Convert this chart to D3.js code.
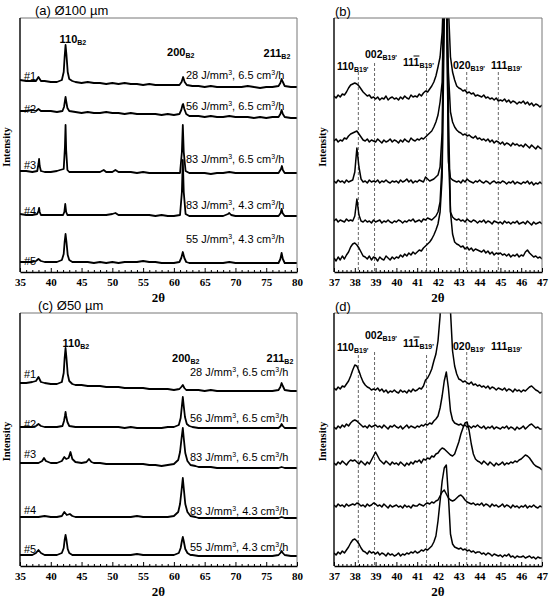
<!DOCTYPE html>
<html><head><meta charset="utf-8">
<script src="https://cdn.jsdelivr.net/npm/d3@7"></script>
<style>body{margin:0;background:#fff}</style>
</head><body>
<svg id="chart" width="550" height="604"></svg>
<script>
// ---------------- DATA ----------------
const thetaWideTicks = [35,40,45,50,55,60,65,70,75,80];
const thetaWideMinor = [36,37,38,39,41,42,43,44,46,47,48,49,51,52,53,54,56,57,58,59,61,62,63,64,66,67,68,69,71,72,73,74,76,77,78,79];
const thetaNarrowTicks = [37,38,39,40,41,42,43,44,45,46,47];
const thetaNarrowMinor = [37.2,37.4,37.6,37.8,38.2,38.4,38.6,38.8,39.2,39.4,39.6,39.8,40.2,40.4,40.6,40.8,41.2,41.4,41.6,41.8,42.2,42.4,42.6,42.8,43.2,43.4,43.6,43.8,44.2,44.4,44.6,44.8,45.2,45.4,45.6,45.8,46.2,46.4,46.6,46.8];
const sampleIds = ["#1","#2","#3","#4","#5"];
const energyDensity = ["28","56","83","83","55"];
const powderRate = ["6.5","6.5","6.5","4.3","4.3"];
const b2Peaks = [{hkl:"110",theta:42.4},{hkl:"200",theta:61.5},{hkl:"211",theta:77.5}];
const b19Peaks = [{hkl:"110",theta:38.17},{hkl:"002",theta:38.95},{hkl:"111",bar:true,theta:41.45},{hkl:"020",theta:43.38},{hkl:"111",theta:44.9}];

// panel (a) Ø100 µm, full range, [2θ, intensity a.u.]
const scanA1 = [[35,192],[36,191],[37,191],[37.6,191],[38.0,195],[38.4,191],[39,191],[40,190],[41,190],[41.8,192],[42.1,200],[42.25,215],[42.4,227],[42.55,217],[42.75,200],[43.0,193],[43.5,191],[44,190],[45,189],[46,190],[47,189],[48,189],[49,188],[50,189],[51,188],[52,189],[53,188],[54,188],[55,187],[56,188],[57,187],[58,187],[59,187],[60,187],[60.9,187],[61.25,190],[61.5,195],[61.75,190],[62.1,187],[63,186],[64,186],[65,185],[66,186],[67,185],[68,185],[69,185],[70,185],[71,185],[72,186],[73,185],[74,184],[75,185],[76,185],[77,186],[77.3,189],[77.5,193],[77.7,190],[78,186],[79,185],[80,185]];
const scanA2 = [[35,161],[36,161],[37,162],[37.6,161],[38.0,163],[38.4,161],[39,161],[40,161],[41,160],[41.9,161],[42.15,165],[42.3,171],[42.4,175],[42.5,171],[42.7,164],[43,161],[44,160],[45,159],[46,160],[47,159],[48,159],[49,160],[50,159],[51,159],[52,158],[53,159],[54,158],[55,158],[56,158],[57,158],[58,157],[59,158],[60,157],[60.9,158],[61.2,162],[61.4,167],[61.5,168],[61.7,163],[62,158],[62.5,156],[63,156],[64,156],[65,155],[66,156],[67,155],[68,155],[69,156],[70,155],[71,155],[72,155],[73,154],[74,155],[75,154],[76,155],[77,155],[77.3,158],[77.5,162],[77.7,158],[78,155],[79,154],[80,154]];
const scanA3 = [[35,101],[36,101],[37,100],[37.8,101],[38.0,108],[38.1,113],[38.2,106],[38.4,101],[39,100],[40,100],[41,101],[41.5,102],[42.1,103],[42.3,125],[42.4,147],[42.5,122],[42.7,102],[43,100],[44,100],[45,100],[46,100],[47,100],[48,100],[48.6,102],[49,100],[50,100],[50.5,102],[51,100],[52,100],[53,100],[54,99],[55,100],[56,99],[57,99],[58,99],[59,99],[60,99],[61,99],[61.3,120],[61.45,147],[61.6,120],[61.9,101],[62.5,99],[63,99],[64,99],[65,99],[66,98],[67,99],[68,99],[69,100],[70,99],[71,99],[72,99],[73,99],[74,99],[75,99],[76,99],[77,99],[77.4,103],[77.55,106],[77.7,102],[78,99],[79,99],[80,99]];
const scanA4 = [[35,58],[36,57],[37,57],[37.8,58],[38.0,61],[38.1,64],[38.2,60],[38.4,57],[39,57],[40,57],[41,57],[42,57],[42.2,60],[42.35,68],[42.5,60],[42.7,57],[43,57],[44,57],[45,57],[46,57],[47,57],[48,57],[49,57],[50,58],[50.5,59],[51,57],[52,57],[53,57],[54,57],[55,57],[56,57],[57,56],[58,57],[59,56],[60,56],[61,57],[61.3,80],[61.45,112],[61.6,80],[61.9,58],[62.5,56],[63,56],[64,56],[65,56],[66,56],[67,56],[68,56],[68.8,58],[69,59],[69.3,57],[70,56],[71,56],[72,56],[73,56],[74,56],[75,56],[76,56],[77,56],[77.35,59],[77.5,63],[77.65,59],[78,56],[79,56],[80,56]];
const scanA5 = [[35,10],[36,10],[37,10],[37.6,11],[38.0,13],[38.4,11],[39,10],[40,10],[41,10],[41.8,12],[42.1,18],[42.25,30],[42.4,38],[42.55,30],[42.75,17],[43,12],[43.5,10],[44,10],[45,10],[46,10],[47,9],[48,10],[49,9],[50,10],[51,9],[52,10],[53,10],[54,10],[55,11],[56,10],[57,10],[58,9],[59,9],[60,9],[60.9,10],[61.2,14],[61.45,20],[61.7,14],[62,10],[62.5,9],[63,9],[64,9],[65,9],[66,9],[67,9],[68,9],[69,10],[70,9],[71,9],[72,9],[73,9],[74,9],[75,9],[76,9],[77,9],[77.3,13],[77.5,19],[77.7,13],[78,9],[79,9],[80,9]];

// panel (c) Ø50 µm, full range
const scanC1 = [[35,183],[36,183],[37,184],[37.6,185],[38.0,189],[38.4,184],[39,183],[40,182],[41,182],[41.8,184],[42.1,193],[42.25,208],[42.4,218],[42.55,208],[42.75,192],[43,185],[43.5,182],[44,181],[45,181],[46,180],[47,180],[48,180],[49,179],[50,179],[51,179],[52,178],[53,178],[54,178],[55,178],[56,177],[57,177],[58,177],[59,177],[60,176],[60.9,177],[61.2,179],[61.45,181],[61.7,178],[62,176],[63,176],[64,176],[65,175],[66,176],[67,175],[68,175],[69,175],[70,175],[71,175],[72,175],[73,175],[74,175],[75,175],[76,175],[77,176],[77.3,179],[77.5,183],[77.7,180],[78,176],[79,175],[80,175]];
const scanC2 = [[35,139],[36,139],[37,139],[37.6,140],[38.0,142],[38.4,140],[39,139],[40,139],[41,139],[41.9,140],[42.15,145],[42.3,150],[42.4,154],[42.5,150],[42.7,144],[43,140],[44,139],[45,139],[46,139],[47,139],[48,139],[49,139],[50,139],[51,139],[52,138],[53,139],[54,138],[55,138],[56,138],[57,138],[58,138],[59,139],[60,139],[60.8,141],[61.1,148],[61.3,160],[61.45,169],[61.6,160],[61.8,149],[62.1,142],[62.5,140],[63,139],[64,138],[65,138],[66,138],[67,138],[68,138],[69,138],[70,138],[71,138],[72,138],[73,138],[74,138],[75,138],[76,138],[77,138],[77.35,140],[77.5,142],[77.7,140],[78,138],[79,138],[80,138]];
const scanC3 = [[35,103],[36,103],[37,103],[38,103],[38.6,105],[38.9,108],[39.2,105],[40,103],[41,103],[41.8,105],[42.2,109],[42.5,107],[42.9,108],[43.2,114],[43.5,107],[44,104],[45,103],[45.8,104],[46.2,107],[46.6,104],[47,103],[48,103],[49,102],[50,102],[51,102],[52,102],[53,102],[54,102],[55,102],[56,101],[57,101],[58,100],[59,101],[60,102],[60.7,106],[61.0,114],[61.25,128],[61.45,138],[61.6,128],[61.85,113],[62.2,105],[62.7,101],[63.5,100],[64,99],[65,99],[66,99],[67,98],[68,98],[69,98],[70,98],[71,98],[72,98],[73,98],[74,98],[75,98],[76,98],[77,98],[77.5,99],[78,98],[79,98],[80,98]];
const scanC4 = [[35,49],[36,49],[37,49],[38,49],[39,50],[40,49],[41,49],[41.8,50],[42.2,54],[42.6,51],[43.1,52],[43.5,50],[44,49],[45,49],[46,49],[47,49],[48,49],[49,49],[50,49],[51,49],[52,49],[53,49],[54,50],[55,49],[56,49],[57,49],[58,49],[59,49],[60,50],[60.7,54],[61.0,62],[61.25,76],[61.45,88],[61.6,78],[61.85,62],[62.2,54],[62.7,50],[63.5,49],[64,48],[65,48],[66,48],[67,48],[68,48],[69,48],[70,48],[71,48],[72,48],[73,48],[74,48],[75,48],[76,48],[77,48],[77.5,49],[78,48],[79,48],[80,48]];
const scanC5 = [[35,11],[36,11],[37,11],[37.6,13],[38.0,16],[38.4,13],[39,11],[40,11],[41,11],[41.8,13],[42.1,18],[42.25,26],[42.4,31],[42.55,26],[42.75,17],[43,13],[43.5,11],[44,11],[45,11],[46,11],[47,11],[48,11],[49,11],[50,11],[51,11],[52,11],[53,11],[54,12],[55,11],[56,11],[57,11],[58,11],[59,11],[60,11],[60.8,13],[61.1,18],[61.3,25],[61.45,29],[61.6,25],[61.85,17],[62.2,13],[62.7,11],[63,11],[64,10],[65,10],[66,10],[67,10],[68,10],[69,10],[70,10],[71,10],[72,10],[73,10],[74,10],[75,10],[76,10],[77,11],[77.3,13],[77.5,15],[77.7,13],[78,11],[79,10],[80,10]];

// zoomed region 37-47°, sampled every 0.1°
const thetaFine = [37.0,37.1,37.2,37.3,37.4,37.5,37.6,37.7,37.8,37.9,38.0,38.1,38.2,38.3,38.4,38.5,38.6,38.7,38.8,38.9,39.0,39.1,39.2,39.3,39.4,39.5,39.6,39.7,39.8,39.9,40.0,40.1,40.2,40.3,40.4,40.5,40.6,40.7,40.8,40.9,41.0,41.1,41.2,41.3,41.4,41.5,41.6,41.7,41.8,41.9,42.0,42.1,42.2,42.3,42.4,42.5,42.6,42.7,42.8,42.9,43.0,43.1,43.2,43.3,43.4,43.5,43.6,43.7,43.8,43.9,44.0,44.1,44.2,44.3,44.4,44.5,44.6,44.7,44.8,44.9,45.0,45.1,45.2,45.3,45.4,45.5,45.6,45.7,45.8,45.9,46.0,46.1,46.2,46.3,46.4,46.5,46.6,46.7,46.8,46.9,47.0];
// panel (b)
const scanB1 = [176,174,177,175,178,177,180,184,187,188, 189,188,186,183,180,178,176,177,174,175, 173,175,172,174,173,176,172,174,175,173, 174,172,175,173,176,174,173,177,175,176, 175,178,176,179,181,180,183,186,190,196, 205,215,240,300,300,265,215,200,192,186, 184,183,181,182,179,180,178,179,176,177, 176,175,177,174,175,173,174,172,174,171, 172,171,173,170,172,169,171,170,168,170, 169,171,168,170,167,169,166,168,167,165, 167];
const scanB2 = [131,133,130,132,131,134,133,136,138,139, 140,141,138,135,132,131,133,130,132,131, 130,133,131,129,132,130,131,133,130,132, 131,129,132,130,133,131,130,134,132,131, 133,132,134,133,135,137,139,141,145,150, 157,170,190,300,300,200,160,150,145,142, 140,139,137,138,136,137,135,134,136,133, 134,132,133,131,133,130,132,129,131,130, 128,130,127,129,128,126,129,127,128,126, 127,125,128,126,124,127,125,123,126,124, 123];
const scanB3 = [91,89,92,90,91,89,92,90,91,92, 100,124,105,93,90,91,89,92,90,91, 90,92,89,91,90,92,90,89,91,90, 91,89,92,90,91,93,90,92,89,91, 90,92,91,90,95,93,91,92,93,95, 97,105,140,300,300,110,94,92,91,90, 91,89,92,90,93,91,90,89,91,90, 92,90,89,91,90,88,90,91,89,90, 89,91,90,88,90,89,91,88,90,89, 88,90,89,91,88,90,87,89,88,90, 88];
const scanB4 = [51,53,50,52,51,50,53,51,52,51, 56,73,57,51,50,52,50,51,49,52, 50,51,52,49,51,50,52,50,49,51, 50,52,51,49,51,50,52,51,53,50, 51,52,50,53,52,54,53,52,54,56, 60,70,110,300,300,120,60,55,53,52, 53,51,52,50,53,51,50,52,51,49, 51,50,52,49,51,50,48,51,50,49, 50,48,51,49,50,48,50,49,51,48, 49,50,48,51,49,47,50,48,49,50, 48];
const scanB5 = [14,11,15,12,16,13,17,20,25,28, 29,27,24,20,16,15,13,16,12,15, 14,11,15,13,12,16,14,12,15,13, 15,14,17,15,18,16,19,17,20,18, 20,22,21,24,26,28,30,33,37,42, 48,60,95,250,300,160,60,38,30,28, 27,25,26,23,25,22,24,21,23,22, 21,20,22,19,21,18,20,17,19,18, 19,17,18,16,18,15,17,16,18,15, 17,16,20,22,19,17,15,16,14,15, 13];
// panel (d)
const scanD1 = [178,176,179,177,180,179,182,185,190,196, 201,200,195,189,184,181,179,178,176,177, 176,178,175,177,174,176,173,175,174,176, 174,173,176,174,175,173,176,174,177,175, 176,178,177,180,186,188,192,197,205,212, 225,250,300,300,300,300,255,215,200,192, 187,186,184,185,183,182,184,181,182,180, 181,179,180,178,180,177,179,178,176,178, 177,176,178,175,177,176,174,177,175,176, 174,176,175,177,179,180,178,176,175,173, 174];
const scanD2 = [139,137,140,138,141,139,142,140,143,145, 146,145,143,141,139,140,138,141,139,140, 141,139,140,138,141,139,137,140,139,141, 139,138,140,137,139,141,138,140,139,138, 140,139,141,140,142,141,143,142,145,147, 150,158,170,185,194,178,155,146,143,142, 141,142,140,141,139,140,138,140,139,141, 139,138,140,137,139,138,140,137,139,138, 137,139,138,140,137,139,138,136,139,137, 138,140,137,139,141,142,140,138,139,137, 137];
const scanD3 = [103,101,104,102,105,103,101,104,106,105, 106,104,102,105,103,101,104,102,106,110, 114,110,106,104,102,105,103,101,104,102, 103,101,104,102,100,103,101,104,102,105, 104,106,103,107,106,108,107,110,109,112, 113,116,118,117,115,113,111,110,112,118, 124,132,138,143,144,135,122,112,107,105, 104,102,105,103,101,104,102,100,103,101, 102,104,101,103,102,104,103,105,104,106, 107,109,111,110,108,105,102,100,99,98, 96];
const scanD4 = [61,59,62,60,61,59,62,60,61,62, 61,63,62,60,61,59,62,60,61,63, 62,60,61,59,62,60,58,61,59,60, 61,59,60,58,61,59,60,58,61,60, 60,62,61,60,62,63,62,64,63,65, 66,70,74,76,72,68,66,65,66,68, 70,71,69,66,64,63,62,63,61,62, 61,63,60,62,61,59,62,60,61,59, 60,62,59,61,60,58,61,59,60,58, 60,59,61,58,60,59,61,59,58,60, 59];
const scanD5 = [13,11,14,12,15,13,16,19,23,26, 27,25,22,18,15,14,12,15,13,14, 12,14,11,13,12,10,13,11,12,10, 11,13,10,12,11,13,12,14,13,15, 13,14,16,15,17,16,18,20,24,30, 45,65,85,98,101,70,32,22,19,18, 17,18,16,17,15,16,14,15,13,14, 14,12,13,11,13,12,10,12,11,10, 11,9,11,10,12,9,10,8,10,9, 9,10,8,9,10,8,9,7,9,8, 8];

// ---------------- LAYOUT ----------------
const svg = d3.select("#chart");
const SANS = "'Liberation Sans', Arial, sans-serif";
const SERIF = "'Liberation Serif', 'Times New Roman', serif";

const panels = [
  {id:"a", title:"(a) Ø100 µm", titleX:35, titleY:15, x0:20, x1:297, y0:18, y1:272, dom:[35,80], major:thetaWideTicks, minor:thetaWideMinor,
   series:[scanA1,scanA2,scanA3,scanA4,scanA5], wide:true,
   peakLab:[{dx:-6,y:43},{dx:-16,y:56},{dx:-18,y:57}],
   noteX:186, noteY:[79,110,163,209,243], idY:[80,113,169,215,265]},
  {id:"b", title:"(b)", titleX:335, titleY:16, x0:334, x1:542, y0:18, y1:272, dom:[37,47], major:thetaNarrowTicks, minor:thetaNarrowMinor,
   series:[scanB1,scanB2,scanB3,scanB4,scanB5], wide:false,
   b19:[{x:337,y:70,top:72},{x:365,y:58,top:63},{x:403,y:66,top:68},{x:453,y:69,top:72},{x:491,y:69,top:72}]},
  {id:"c", title:"(c) Ø50 µm", titleX:38, titleY:310, x0:20, x1:297, y0:313, y1:566, dom:[35,80], major:thetaWideTicks, minor:thetaWideMinor,
   series:[scanC1,scanC2,scanC3,scanC4,scanC5], wide:true,
   peakLab:[{dx:-3,y:347},{dx:-11,y:362},{dx:-15,y:362}],
   noteX:190, noteY:[376,422,461,515,551], idY:[378,428,458,514,553]},
  {id:"d", title:"(d)", titleX:335, titleY:311, x0:334, x1:542, y0:313, y1:566, dom:[37,47], major:thetaNarrowTicks, minor:thetaNarrowMinor,
   series:[scanD1,scanD2,scanD3,scanD4,scanD5], wide:false,
   b19:[{x:337,y:351,top:355},{x:365,y:339,top:352},{x:403,y:347,top:355},{x:453,y:350,top:352},{x:491,y:350,top:null}]}
];

panels.forEach(p => {
  const g = svg.append("g");
  const x = d3.scaleLinear().domain(p.dom).range([p.x0, p.x1]);
  const y = d3.scaleLinear().domain([0, p.y1 - p.y0]).range([p.y1, p.y0]);
  const clipId = "clip-" + p.id;
  svg.append("clipPath").attr("id", clipId).append("rect")
    .attr("x", p.x0).attr("y", p.y0).attr("width", p.x1 - p.x0).attr("height", p.y1 - p.y0);

  if (!p.wide) {
    b19Peaks.forEach((pk, i) => {
      const L = p.b19[i];
      if (L.top === null) return;
      g.append("line").attr("x1", x(pk.theta)).attr("x2", x(pk.theta))
        .attr("y1", L.top).attr("y2", p.y1)
        .attr("stroke", "#666").attr("stroke-width", 1).attr("stroke-dasharray", "3,2");
    });
  }

  const line = d3.line().x(d => x(d[0])).y(d => y(d[1]));
  const tg = g.append("g").attr("clip-path", `url(#${clipId})`);
  p.series.forEach(s => {
    const pts = p.wide ? s : thetaFine.map((t, i) => [t, s[i]]);
    tg.append("path").attr("d", line(pts)).attr("fill", "none")
      .attr("stroke", "#000").attr("stroke-width", p.wide ? 1.8 : 1.5).attr("stroke-linejoin", "round");
  });

  g.append("line").attr("x1", p.x0).attr("x2", p.x1).attr("y1", p.y0).attr("y2", p.y0).attr("stroke", "#777").attr("stroke-width", 1);
  g.append("line").attr("x1", p.x1).attr("x2", p.x1).attr("y1", p.y0).attr("y2", p.y1).attr("stroke", "#777").attr("stroke-width", 1);
  g.append("line").attr("x1", p.x0).attr("x2", p.x0).attr("y1", p.y0).attr("y2", p.y1).attr("stroke", "#000").attr("stroke-width", 1.4);

  const ax = g.append("g").attr("transform", `translate(0,${p.y1})`)
    .call(d3.axisBottom(x).tickValues(p.major).tickSize(-4).tickSizeOuter(0).tickPadding(6).tickFormat(d3.format("d")));
  ax.select(".domain").attr("stroke", "#000").attr("stroke-width", 1.4);
  ax.selectAll(".tick line").attr("stroke", "#000").attr("stroke-width", 1);
  ax.selectAll("text").attr("font-family", SERIF).attr("font-weight", "bold").attr("font-size", 11).attr("fill", "#000");
  const axm = g.append("g").attr("transform", `translate(0,${p.y1})`)
    .call(d3.axisBottom(x).tickValues(p.minor).tickSize(-2).tickSizeOuter(0).tickFormat(""));
  axm.select(".domain").remove();
  axm.selectAll(".tick line").attr("stroke", "#000").attr("stroke-width", 1);

  g.append("text").attr("x", (p.x0 + p.x1) / 2).attr("y", p.y1 + 30)
    .attr("text-anchor", "middle").attr("font-family", SERIF).attr("font-weight", "bold").attr("font-size", 13)
    .text("2θ");
  const ylx = p.wide ? 10 : 326;
  g.append("text").attr("transform", `translate(${ylx},${(p.y0 + p.y1) / 2 + 2}) rotate(-90)`)
    .attr("text-anchor", "middle").attr("font-family", SERIF).attr("font-weight", "bold").attr("font-size", 10.5)
    .text("Intensity");

  g.append("text").attr("x", p.titleX).attr("y", p.titleY).attr("font-family", SANS).attr("font-size", 13).text(p.title);

  if (p.wide) {
    b2Peaks.forEach((pk, i) => {
      const L = p.peakLab[i];
      const t = g.append("text").attr("x", x(pk.theta) + L.dx).attr("y", L.y)
        .attr("font-family", SANS).attr("font-weight", "bold").attr("font-size", 11);
      t.append("tspan").text(pk.hkl);
      t.append("tspan").attr("font-size", 7).attr("dy", 2).text("B2");
    });
    sampleIds.forEach((id, i) => {
      g.append("text").attr("x", 24).attr("y", p.idY[i]).attr("font-family", SANS).attr("font-size", 11).text(id);
      const t = g.append("text").attr("x", p.noteX).attr("y", p.noteY[i]).attr("font-family", SANS).attr("font-size", 11);
      t.append("tspan").text(energyDensity[i] + " J/mm");
      t.append("tspan").attr("font-size", 7).attr("dy", -4).text("3");
      t.append("tspan").attr("dy", 4).text(", " + powderRate[i] + " cm");
      t.append("tspan").attr("font-size", 7).attr("dy", -4).text("3");
      t.append("tspan").attr("dy", 4).text("/h");
    });
  } else {
    b19Peaks.forEach((pk, i) => {
      const L = p.b19[i];
      const t = g.append("text").attr("x", L.x).attr("y", L.y)
        .attr("font-family", SANS).attr("font-weight", "bold").attr("font-size", 10.5);
      t.append("tspan").text(pk.hkl);
      t.append("tspan").attr("font-size", 7).attr("dy", 2).text("B19'");
      if (pk.bar) {
        const node = t.node();
        const s = node.getStartPositionOfChar(2), e = node.getEndPositionOfChar(2);
        g.append("line").attr("x1", s.x).attr("x2", e.x).attr("y1", L.y - 10).attr("y2", L.y - 10)
          .attr("stroke", "#000").attr("stroke-width", 1);
      }
    });
  }
});
</script>
</body></html>
